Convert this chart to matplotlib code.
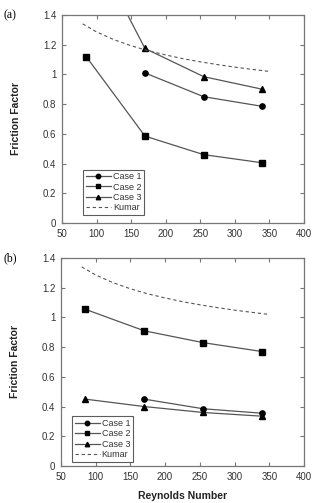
import matplotlib
matplotlib.use("Agg")
import matplotlib.pyplot as plt

plt.rcParams['font.family'] = ['Liberation Sans', 'DejaVu Sans']

# ---- data ----
re_pts = [85, 170, 255, 340]
re_case1 = [170, 255, 340]

a_case1 = [1.01, 0.85, 0.785]
a_case2 = [1.12, 0.585, 0.46, 0.405]
a_case3 = [1.94, 1.175, 0.985, 0.90]

b_case1 = [0.45, 0.385, 0.355]
b_case2 = [1.055, 0.91, 0.83, 0.77]
b_case3 = [0.45, 0.40, 0.36, 0.335]

kumar_re = [80, 100, 125, 150, 175, 200, 225, 250, 275, 300, 325, 350]
kumar_f = [1.34, 1.286, 1.234, 1.193, 1.159, 1.131, 1.106, 1.085, 1.066, 1.049, 1.034, 1.02]

xticks = [50, 100, 150, 200, 250, 300, 350, 400]
yticks = [0, 0.2, 0.4, 0.6, 0.8, 1.0, 1.2, 1.4]
ytick_labels = ['0', '0.2', '0.4', '0.6', '0.8', '1', '1.2', '1.4']

fig = plt.figure(figsize=(3.17, 5.03), dpi=100)
ax_a = fig.add_axes([0.1956, 0.5567, 0.763, 0.4135])
ax_b = fig.add_axes([0.192, 0.0736, 0.767, 0.4135])

line_c = '#555555'
spine_c = '#777777'

def draw(ax, c1, c2, c3, label, leg_anchor):
    ax.plot(re_case1, c1, color=line_c, lw=0.9, marker='o', ms=3.8,
            mfc='black', mec='black', label='Case 1')
    ax.plot(re_pts, c2, color=line_c, lw=0.9, marker='s', ms=3.8,
            mfc='black', mec='black', label='Case 2')
    ax.plot(re_pts, c3, color=line_c, lw=0.9, marker='^', ms=3.8,
            mfc='black', mec='black', label='Case 3')
    ax.plot(kumar_re, kumar_f, color=line_c, lw=0.8, ls=(0, (3, 2.5)),
            label='Kumar')
    ax.set_xlim(50, 400)
    ax.set_ylim(0, 1.4)
    ax.set_xticks(xticks)
    ax.set_yticks(yticks)
    ax.set_yticklabels(ytick_labels)
    ax.tick_params(direction='in', top=True, right=True, length=3,
                   width=0.8, color=spine_c, labelsize=7, labelcolor='#333333',
                   pad=4)
    for s in ax.spines.values():
        s.set_color(spine_c)
        s.set_linewidth(0.9)
    ax.set_ylabel('Friction Factor', fontsize=7.5, fontweight='bold',
                  color='#222222')
    leg = ax.legend(loc='lower left', bbox_to_anchor=leg_anchor,
                    fontsize=6.5, frameon=True, fancybox=False,
                    handlelength=2.8, handletextpad=0.2, borderpad=0.3,
                    labelspacing=0.15, borderaxespad=0, markerscale=0.85)
    leg.get_frame().set_edgecolor('#333333')
    leg.get_frame().set_linewidth(0.8)
    for t in leg.get_texts():
        t.set_color('#333333')
    fig.text(0.01, ax.get_position().y1, label, fontsize=8.5,
             family='Liberation Serif', va='center', ha='left')

draw(ax_a, a_case1, a_case2, a_case3, '(a)', (0.087, 0.038))
draw(ax_b, b_case1, b_case2, b_case3, '(b)', (0.045, 0.02))
ax_b.set_xlabel('Reynolds Number', fontsize=7.5, fontweight='bold',
                color='#222222')

for ax in (ax_a, ax_b):
    ax.yaxis.set_label_coords(-0.17, 0.5)
ax_b.xaxis.set_label_coords(0.5, -0.12)

fig.savefig('out.png', dpi=100)
